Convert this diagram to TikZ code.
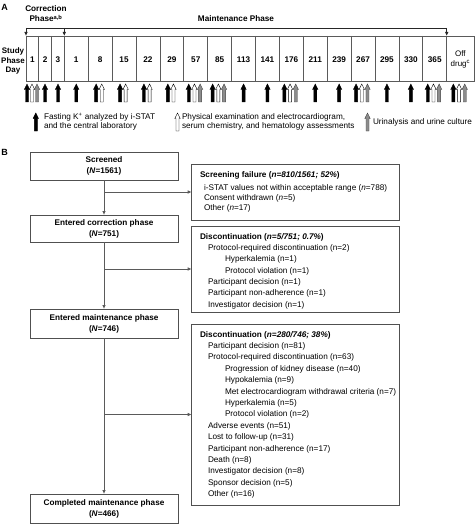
\documentclass[tikz,border=0pt]{standalone}
\usepackage{fontspec}
\setmainfont{Liberation Sans}
\usetikzlibrary{arrows.meta}
\definecolor{ln}{HTML}{5A5A5A}
\definecolor{bx}{HTML}{505050}
\definecolor{grayarr}{HTML}{8C8C8C}
\newcommand{\mkarr}[3]{\filldraw[#3, line width=0.4pt, shift={(#1,#2)}] (-1.5,0) -- (-1.5,-12.5) -- (-2.7,-12.5) -- (0,-18) -- (2.7,-12.5) -- (1.5,-12.5) -- (1.5,0) -- cycle;}
\tikzset{
  every node/.style={inner sep=0pt, outer sep=0pt},
  fs/.style={font=\fontsize{8.2}{9.8}\selectfont},
  hdr/.style={font=\fontsize{8.2}{10}\selectfont\bfseries, align=center},
  day/.style={font=\fontsize{8.2}{10}\selectfont\bfseries},
  txt/.style={fs, anchor=west, text height=6pt, text depth=1.7pt},
  ttl/.style={txt, font=\fontsize{8.2}{9.8}\selectfont\bfseries},
  lbox/.style={draw=bx, line width=0.7pt, minimum width=148pt, align=center, font=\fontsize{8.2}{11}\selectfont\bfseries},
  rbox/.style={draw=bx, line width=0.7pt, minimum width=207.6pt},
  conn/.style={draw=ln, line width=0.8pt},
  arr/.style={conn, -{Latex[length=4pt,width=3.6pt]}},
  tline/.style={draw=ln, line width=0.7pt},
  kb/.style={fill=black, draw=black},
  kw/.style={fill=white, draw=black},
  kg/.style={fill=grayarr, draw=black!75},
}
\begin{document}
\begin{tikzpicture}[x=1pt, y=-1pt]
\useasboundingbox (0,0) rectangle (475,524);
% ---------- Panel A ----------
\node[font=\fontsize{9}{10}\selectfont\bfseries] (lblA) at (4.5,7) {A};
\node[hdr] (corr) at (46,14) {Correction\\Phase\textsuperscript{a,b}};
\node[hdr] (maint) at (236,19) {Maintenance Phase};
\coordinate (bl) at (26,28);
\coordinate (bm) at (64.3,28);
\coordinate (br) at (446.7,28);
\coordinate (tl) at (26,36);
\coordinate (tm) at (64.3,36);
\coordinate (tr) at (446.7,36);
\draw[conn, draw=black!85] (bl) -- (br);
\draw[arr, draw=black!85] (bl) -- (tl);
\draw[arr, draw=black!85] (bm) -- (tm);
\draw[arr, draw=black!85] (br) -- (tr);
% table
\node[tline, draw, minimum width=448pt, minimum height=45pt] (tab) at (250,58.5) {};
\foreach \xx in {38.8,51.5,64.3,88.2,112.1,136.0,159.9,183.8,207.7,231.6,255.5,279.4,303.3,327.2,351.1,375.0,398.9,422.8,446.7}
  \draw[tline] (\xx,36) -- (\xx,81);
\node[hdr, font=\fontsize{8}{9.3}\selectfont\bfseries] (spd) at (13,61) {Study\\Phase\\Day};
\node[day] (c1) at (32.4,60) {1};
\node[day] (c2) at (45.15,60) {2};
\node[day] (c3) at (57.9,60) {3};
\node[day] (m1) at (76.25,60) {1};
\node[day] (m8) at (100.15,60) {8};
\node[day] (m15) at (124.05,60) {15};
\node[day] (m22) at (147.95,60) {22};
\node[day] (m29) at (171.85,60) {29};
\node[day] (m57) at (195.75,60) {57};
\node[day] (m85) at (219.65,60) {85};
\node[day] (m113) at (243.55,60) {113};
\node[day] (m141) at (267.45,60) {141};
\node[day] (m176) at (291.35,60) {176};
\node[day] (m211) at (315.25,60) {211};
\node[day] (m239) at (339.15,60) {239};
\node[day] (m267) at (363.05,60) {267};
\node[day] (m295) at (386.95,60) {295};
\node[day] (m330) at (410.85,60) {330};
\node[day] (m365) at (434.75,60) {365};
\node[fs, align=center, font=\fontsize{8}{10}\selectfont] (off) at (460.4,59) {Off\\drug\textsuperscript{c}};
% day arrows
\mkarr{27}{102}{kb}\mkarr{32}{102}{kw}\mkarr{37}{102}{kg}
\mkarr{45}{102}{kb}
\mkarr{58}{102}{kb}
\mkarr{76.25}{102}{kb}
\foreach \cx in {100.15,124.05,147.95,171.85}{\mkarr{\cx-4}{102}{kb}\mkarr{\cx+1.6}{102}{kw}}
\foreach \cx in {195.75,219.65,291.35,363.05,434.75,460.35}{\mkarr{\cx-7}{102}{kb}\mkarr{\cx-1.3}{102}{kw}\mkarr{\cx+4.4}{102}{kg}}
\foreach \cx in {243.55,267.45,315.25,339.15,386.95,410.85}{\mkarr{\cx}{102}{kb}}
% legend
\mkarr{35.8}{131}{kb}
\mkarr{177.5}{131}{kw}
\mkarr{367.5}{131}{kg}
\node[fs, anchor=west, align=left, font=\fontsize{8.2}{9}\selectfont] (lg1) at (44,121.5) {Fasting K\textsuperscript{+} analyzed by i-STAT\\and the central laboratory};
\node[fs, anchor=west, align=left, font=\fontsize{8.2}{9}\selectfont] (lg2) at (182,121.5) {Physical examination and electrocardiogram,\\serum chemistry, and hematology assessments};
\node[fs, anchor=west] (lg3) at (373,122) {Urinalysis and urine culture};
% ---------- Panel B ----------
\node[font=\fontsize{9}{10}\selectfont\bfseries] (lblB) at (4.5,152) {B};
\node[lbox, minimum height=28pt] (scr) at (104,166) {Screened\\(\textit{N}=1561)};
\node[lbox, minimum height=27pt] (ec) at (104,228.5) {Entered correction phase\\(\textit{N}=751)};
\node[lbox, minimum height=29pt] (em) at (104,323.5) {Entered maintenance phase\\(\textit{N}=746)};
\node[lbox, minimum height=29pt] (cm) at (104,508.5) {Completed maintenance phase\\(\textit{N}=466)};
\node[rbox, minimum height=56pt] (sf) at (295.5,192) {};
\node[rbox, minimum height=86pt] (d1) at (295.5,269) {};
\node[rbox, minimum height=181pt] (d2) at (295.5,414.5) {};
\draw[arr] (scr.south) -- (ec.north);
\draw[arr] (scr.south |- sf.west) -- (sf.west);
\draw[arr] (ec.south) -- (em.north);
\draw[arr] (ec.south |- d1.west) -- (d1.west);
\draw[arr] (em.south) -- (cm.north);
\draw[arr] (em.south |- d2.west) -- (d2.west);
% screening failure text
\node[ttl] (sft) at (200,175) {Screening failure (\textit{n=810/1561; 52\%})};
\node[txt] (sf1) at (204,188.5) {i-STAT values not within acceptable range (\textit{n}=788)};
\node[txt] (sf2) at (204,198.3) {Consent withdrawn (\textit{n}=5)};
\node[txt] (sf3) at (204,208.1) {Other (\textit{n}=17)};
% discontinuation 1
\node[ttl] (d1t) at (200,237) {Discontinuation (\textit{n=5/751; 0.7\%})};
\node[txt] (d1a) at (208,248.3) {Protocol-required discontinuation (n=2)};
\node[txt] (d1b) at (225,259.7) {Hyperkalemia (n=1)};
\node[txt] (d1c) at (225,271) {Protocol violation (n=1)};
\node[txt] (d1d) at (208,282.3) {Participant decision (n=1)};
\node[txt] (d1e) at (208,293.7) {Participant non-adherence (n=1)};
\node[txt] (d1f) at (208,305) {Investigator decision (n=1)};
% discontinuation 2
\node[ttl] (d2t) at (200,335) {Discontinuation (\textit{n=280/746; 38\%})};
\node[txt] (d2a) at (208,346.4) {Participant decision (n=81)};
\node[txt] (d2b) at (208,357.8) {Protocol-required discontinuation (n=63)};
\node[txt] (d2c) at (225,369.2) {Progression of kidney disease (n=40)};
\node[txt] (d2d) at (225,380.6) {Hypokalemia (n=9)};
\node[txt] (d2e) at (225,392) {Met electrocardiogram withdrawal criteria (n=7)};
\node[txt] (d2f) at (225,403.4) {Hyperkalemia (n=5)};
\node[txt] (d2g) at (225,414.8) {Protocol violation (n=2)};
\node[txt] (d2h) at (208,426.2) {Adverse events (n=51)};
\node[txt] (d2i) at (208,437.6) {Lost to follow-up (n=31)};
\node[txt] (d2j) at (208,449) {Participant non-adherence (n=17)};
\node[txt] (d2k) at (208,460.4) {Death (n=8)};
\node[txt] (d2l) at (208,471.8) {Investigator decision (n=8)};
\node[txt] (d2m) at (208,483.2) {Sponsor decision (n=5)};
\node[txt] (d2n) at (208,494.6) {Other (n=16)};
\end{tikzpicture}
\end{document}
